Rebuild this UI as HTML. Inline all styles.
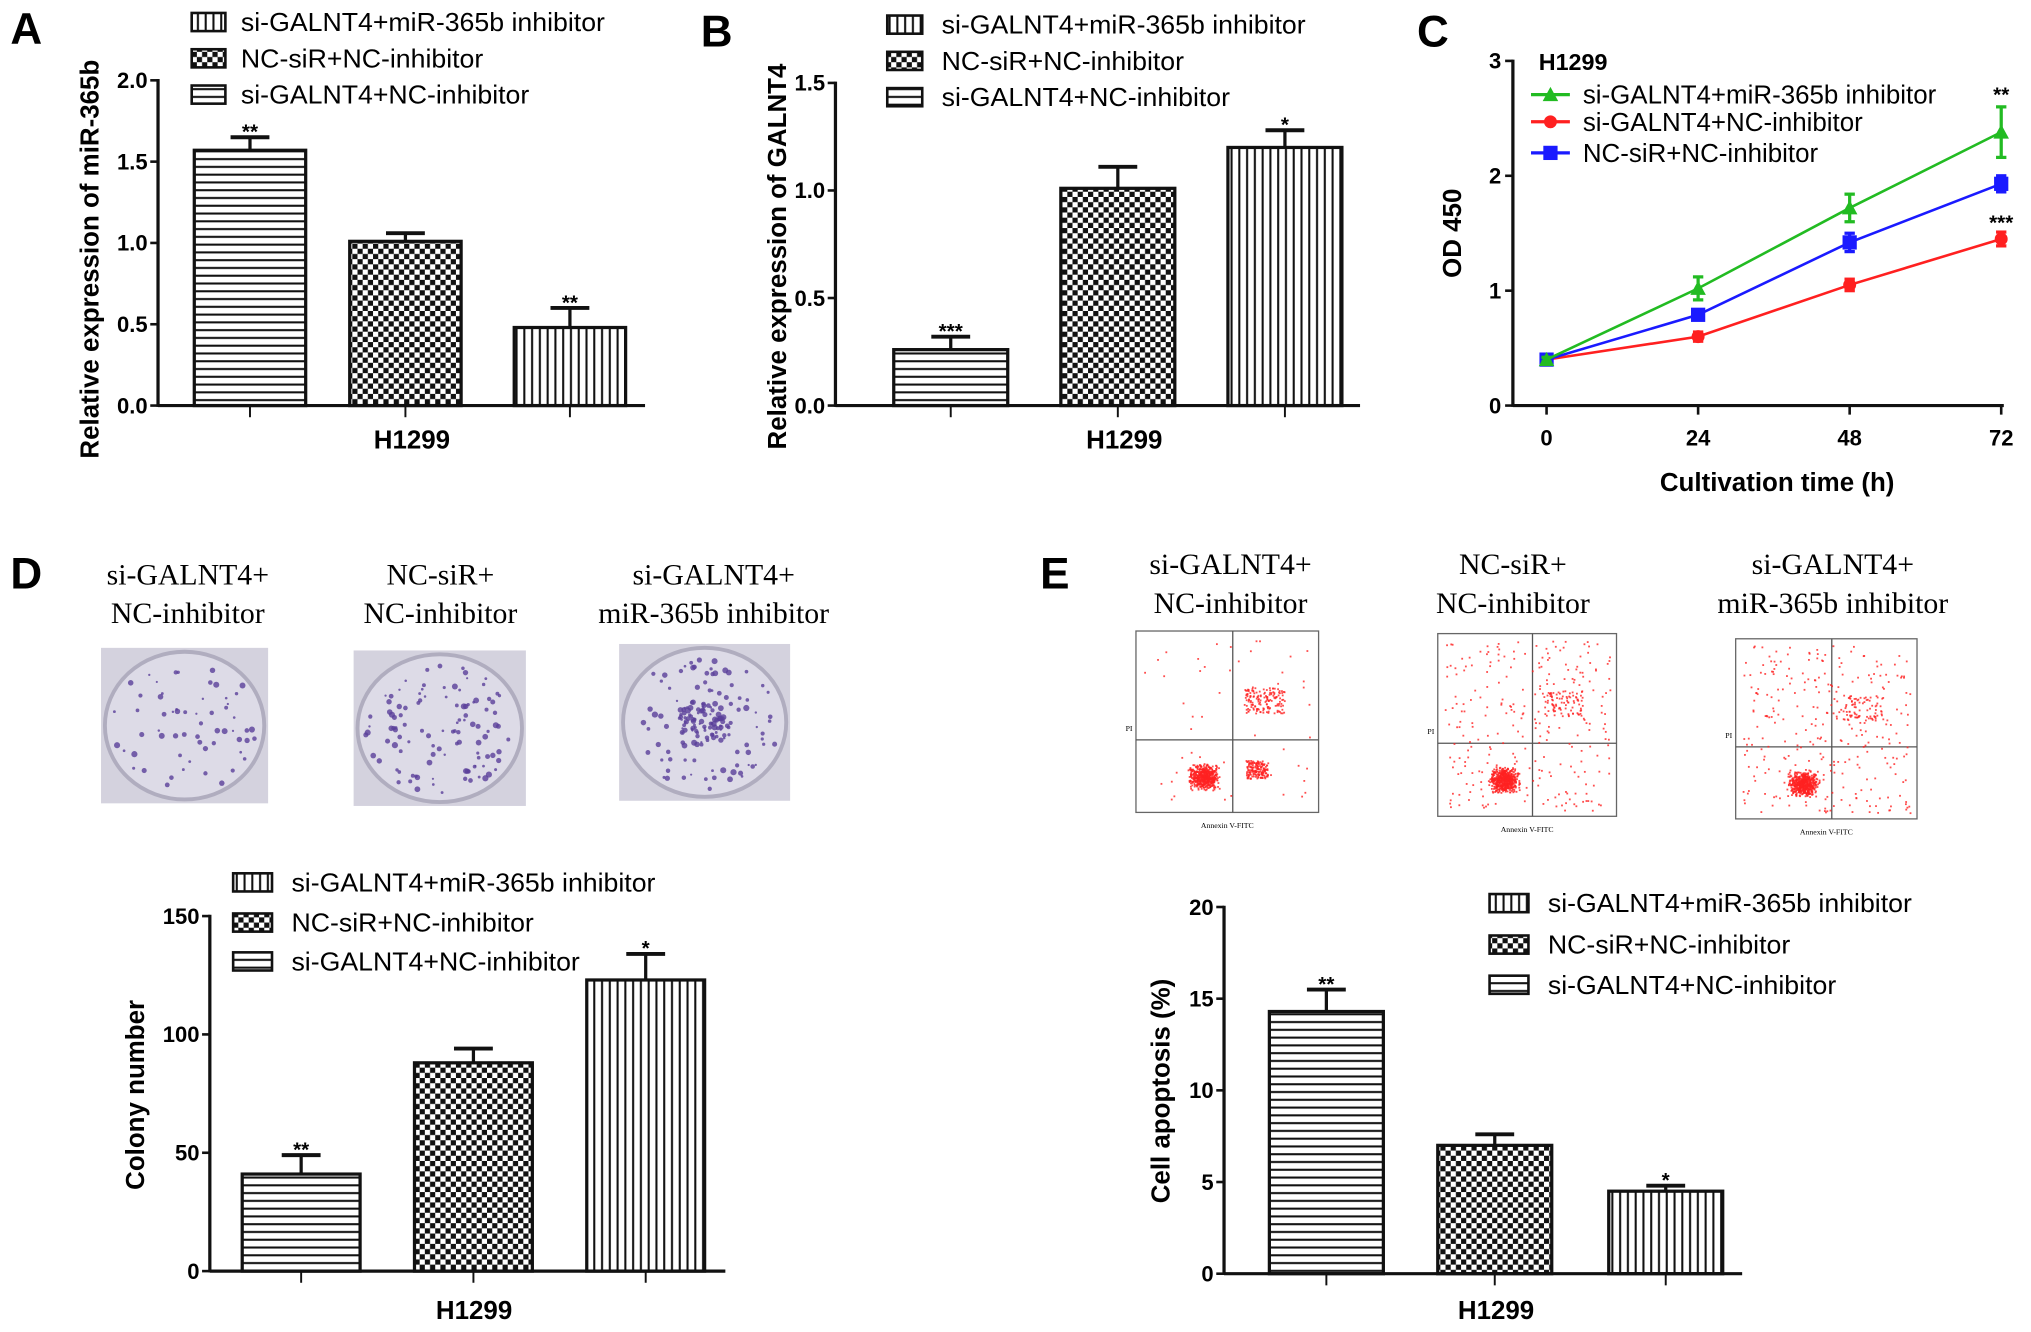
<!DOCTYPE html>
<html><head><meta charset="utf-8"><style>
html,body{margin:0;padding:0;background:#fff}
svg{display:block}
text{font-family:"Liberation Sans",Arial,sans-serif}
.serif{font-family:"Liberation Serif","Times New Roman",serif}
</style></head><body>
<svg id="fig" width="2031" height="1332" viewBox="0 0 1568 1028" preserveAspectRatio="none" xmlns="http://www.w3.org/2000/svg">
<defs>
<pattern id="ph" patternUnits="userSpaceOnUse" width="6" height="6"><rect width="6" height="6" fill="#fff"/><rect y="2" width="6" height="1.6" fill="#111"/></pattern>
<pattern id="pv" patternUnits="userSpaceOnUse" width="6" height="6"><rect width="6" height="6" fill="#fff"/><rect x="2" width="1.6" height="6" fill="#111"/></pattern>
<pattern id="pc" patternUnits="userSpaceOnUse" width="8" height="8"><rect width="8" height="8" fill="#111"/><rect width="4" height="4" fill="#fff"/><rect x="4" y="4" width="4" height="4" fill="#fff"/></pattern>
</defs>
<g id="root"></g>
</svg>
<script>
// ---------- data ----------
const aValues=[1.57,1.01,0.48];
const aErrors=[0.08,0.05,0.12];
const aStars=["**","","**"];
const aTicks=[0,0.5,1.0,1.5,2.0];
const bValues=[0.26,1.01,1.20];
const bErrors=[0.06,0.10,0.08];
const bStars=["***","","*"];
const bTicks=[0,0.5,1.0,1.5];
const dValues=[41,88,123];
const dErrors=[8,6,11];
const dStars=["**","","*"];
const dTicks=[0,50,100,150];
const eValues=[14.3,7.0,4.5];
const eErrors=[1.2,0.6,0.3];
const eStars=["**","","*"];
const eTicks=[0,5,10,15,20];
const barPatterns=["ph","pc","pv"];
const legendLabels=["si-GALNT4+miR-365b inhibitor","NC-siR+NC-inhibitor","si-GALNT4+NC-inhibitor"];
const legendPatterns=["pv","pc","ph"];
const cTimes=[0,24,48,72];
const cTicksX=[0,24,48,72];
const cTicksY=[0,1,2,3];
const cGreen=[0.40,1.02,1.72,2.38];
const cGreenErr=[0.02,0.10,0.12,0.22];
const cRed=[0.40,0.60,1.05,1.45];
const cRedErr=[0.02,0.04,0.05,0.06];
const cBlue=[0.40,0.79,1.42,1.93];
const cBlueErr=[0.02,0.03,0.08,0.07];

const NS="http://www.w3.org/2000/svg";
const root=document.getElementById('root');
function el(tag,attrs,parent,txt){const e=document.createElementNS(NS,tag);for(const k in attrs)e.setAttribute(k,attrs[k]);if(txt!==undefined)e.textContent=txt;(parent||root).appendChild(e);return e;}

function barChart(o){
  const g=el('g',{});
  
  
  const y=v=>o.y0-(v-o.tmin)/(o.tmax-o.tmin)*(o.y0-o.y1);
  o.values.forEach((v,i)=>{
    const x0=o.bx[i];
    const r=el('rect',{x:x0,y:y(v),width:o.bw,height:o.y0-y(v),fill:'url(#'+barPatterns[i]+')',stroke:'#111','stroke-width':2.5},g);
    
    
    const cx=x0+o.bw/2, top=y(v+o.errors[i]);
    el('line',{x1:cx,y1:y(v),x2:cx,y2:top,stroke:'#111','stroke-width':2.5},g);
    el('line',{x1:cx-15,y1:top,x2:cx+15,y2:top,stroke:'#111','stroke-width':3},g);
    if(o.stars[i]){const s=el('text',{x:cx,y:top+1,'font-size':16,'text-anchor':'middle','font-weight':'bold'},g,o.stars[i]);
      
      }
    el('line',{x1:cx,y1:o.y0,x2:cx,y2:o.y0+9,stroke:'#111','stroke-width':1.5},g);
  });
  el('line',{x1:o.ax,y1:o.y1-1,x2:o.ax,y2:o.y0+1,stroke:'#111','stroke-width':2.5},g);
  el('line',{x1:o.ax,y1:o.y0,x2:o.xend,y2:o.y0,stroke:'#111','stroke-width':2.5},g);
  o.ticks.forEach(t=>{
    el('line',{x1:o.ax-6,y1:y(t),x2:o.ax,y2:y(t),stroke:'#111','stroke-width':2},g);
    const tl=el('text',{x:o.ax-8,y:y(t)+6,'font-size':17,'font-weight':'bold','text-anchor':'end'},g,o.fmt(t));
    
    
  });
  const yt=el('text',{transform:'translate('+o.ytx+','+o.yty+') rotate(-90)','font-size':20,'font-weight':'bold','text-anchor':'middle'},g,o.ytitle);
  
  
  const xl=el('text',{x:o.xlx,y:o.xly,'font-size':20,'font-weight':'bold','text-anchor':'middle'},g,'H1299');
  
  
  legendLabels.forEach((lab,i)=>{
    const ly=o.ly[i];
    const lg=el('g',{},g);
    
    
    el('rect',{x:o.lx,y:ly-7,width:o.lw,height:14,fill:'url(#'+legendPatterns[i]+')',stroke:'#111','stroke-width':2},lg);
    el('text',{x:o.ltx,y:ly+7,'font-size':20,transform:'translate('+o.ltx+',0) scale(1.03,1) translate('+(-o.ltx)+',0)'},lg,lab);
  });
}
function letter(t,x,y){const e=el('text',{x:x,y:y,'font-size':34,'font-weight':'bold'},root,t);
  
  }

letter('A',8,34);letter('B',541,36);letter('C',1094,36);letter('D',8,454);letter('E',803,454);

barChart({name:'panel-a-chart',values:aValues,errors:aErrors,stars:aStars,ticks:aTicks,tmin:0,tmax:2,fmt:t=>t.toFixed(1),
  y0:313,y1:62,ax:122,xend:498,bx:[150,270,397],bw:86,ytx:76,yty:200,ytitle:'Relative expression of miR-365b',
  xlx:318,xly:346,lx:148,lw:26,ltx:186,ly:[17,45,73]});
barChart({name:'panel-b-chart',values:bValues,errors:bErrors,stars:bStars,ticks:bTicks,tmin:0,tmax:1.5,fmt:t=>t.toFixed(1),
  y0:313,y1:64,ax:645,xend:1050,bx:[690,819,948],bw:88,ytx:607,yty:198,ytitle:'Relative expression of GALNT4',
  xlx:868,xly:346,lx:685,lw:27,ltx:727,ly:[19,47,75]});
barChart({name:'panel-d-chart',values:dValues,errors:dErrors,stars:dStars,ticks:dTicks,tmin:0,tmax:150,fmt:t=>String(t),
  y0:981,y1:707,ax:162,xend:560,bx:[187,320,453],bw:91,ytx:111,yty:845,ytitle:'Colony number',
  xlx:366,xly:1018,lx:180,lw:30,ltx:225,ly:[681,712,742]});
barChart({name:'panel-e-chart',values:eValues,errors:eErrors,stars:eStars,ticks:eTicks,tmin:0,tmax:20,fmt:t=>String(t),
  y0:983,y1:700,ax:945,xend:1345,bx:[980,1110,1242],bw:88,ytx:903,yty:842,ytitle:'Cell apoptosis (%)',
  xlx:1155,xly:1018,lx:1150,lw:30,ltx:1195,ly:[697,729,760]});

// ---------- panel C line chart ----------
(function(){
  const g=el('g',{});
  
  
  const x=t=>1194+(t-0)/72*(1545-1194);
  const y=v=>313-v/3*(313-47);
  el('line',{x1:1168,y1:46,x2:1168,y2:314,stroke:'#111','stroke-width':2.5},g);
  el('line',{x1:1168,y1:313,x2:1547,y2:313,stroke:'#111','stroke-width':2.5},g);
  cTicksY.forEach(t=>{el('line',{x1:1162,y1:y(t),x2:1168,y2:y(t),stroke:'#111','stroke-width':2},g);
    const tl=el('text',{x:1159,y:y(t)+6,'font-size':17,'font-weight':'bold','text-anchor':'end'},g,String(t));
    
    });
  cTicksX.forEach(t=>{el('line',{x1:x(t),y1:313,x2:x(t),y2:320,stroke:'#111','stroke-width':2},g);
    const tl=el('text',{x:x(t),y:344,'font-size':17,'font-weight':'bold','text-anchor':'middle'},g,String(t));
    
    });
  const xt=el('text',{x:1372,y:379,'font-size':20,'font-weight':'bold','text-anchor':'middle'},g,'Cultivation time (h)');
  
  
  const yt=el('text',{transform:'translate(1128,180) rotate(-90)','font-size':20,'font-weight':'bold','text-anchor':'middle'},g,'OD 450');
  
  
  const tt=el('text',{x:1188,y:54,'font-size':18,'font-weight':'bold'},g,'H1299');
  
  
  const series=[[cRed,cRedErr,'#ff2020','circle'],[cBlue,cBlueErr,'#1a1aff','square'],[cGreen,cGreenErr,'#22bb22','tri']];
  function marker(px,py,col,shape,parent){
    if(shape==='circle')el('circle',{cx:px,cy:py,r:5,fill:col},parent);
    else if(shape==='square')el('rect',{x:px-5.5,y:py-5.5,width:11,height:11,fill:col},parent);
    else el('polygon',{points:(px)+','+(py-6)+' '+(px+6)+','+(py+5)+' '+(px-6)+','+(py+5),fill:col},parent);
  }
  series.forEach(([vals,errs,col,shape])=>{
    const sg=el('g',{},g);
    
    
    el('polyline',{points:vals.map((v,i)=>x(cTimes[i])+','+y(v)).join(' '),fill:'none',stroke:col,'stroke-width':2},sg);
    vals.forEach((v,i)=>{
      const px=x(cTimes[i]);
      el('line',{x1:px,y1:y(v-errs[i]),x2:px,y2:y(v+errs[i]),stroke:col,'stroke-width':2.5},sg);
      el('line',{x1:px-4,y1:y(v-errs[i]),x2:px+4,y2:y(v-errs[i]),stroke:col,'stroke-width':2.5},sg);
      el('line',{x1:px-4,y1:y(v+errs[i]),x2:px+4,y2:y(v+errs[i]),stroke:col,'stroke-width':2.5},sg);
      marker(px,y(v),col,shape,sg);
    });
  });
  el('text',{x:1545,y:y(cGreen[3]+cGreenErr[3])-4,'font-size':16,'font-weight':'bold','text-anchor':'middle'},g,'**');
  el('text',{x:1545,y:y(cRed[3]+cRedErr[3])-2,'font-size':16,'font-weight':'bold','text-anchor':'middle'},g,'***');
  const leg=[['si-GALNT4+miR-365b inhibitor','#22bb22','tri',73],['si-GALNT4+NC-inhibitor','#ff2020','circle',94],['NC-siR+NC-inhibitor','#1a1aff','square',118]];
  leg.forEach(([lab,col,shape,ly])=>{
    const lg=el('g',{},g);
    
    
    el('line',{x1:1182,y1:ly,x2:1212,y2:ly,stroke:col,'stroke-width':2.5},lg);
    marker(1197,ly,col,shape,lg);
    el('text',{x:1222,y:ly+7,'font-size':20},lg,lab);
  });
})();

// ---------- D images (colony dishes) ----------
function hash(n){const s=Math.sin(n*127.1+311.7)*43758.5453;return s-Math.floor(s);}
const dTitles=[['si-GALNT4+','NC-inhibitor',145],['NC-siR+','NC-inhibitor',340],['si-GALNT4+','miR-365b inhibitor',551]];
dTitles.forEach(([a,b,cx])=>{
  const t=el('text',{x:cx,y:451,'font-size':23,'text-anchor':'middle',class:'serif'},root,a);
  
  
  el('text',{x:cx,y:481,'font-size':23,'text-anchor':'middle',class:'serif'},root,b);
});
const dishes=[[78,500,129,120,60,0],[273,502,133,120,110,0],[478,497,132,121,170,1]];
dishes.forEach(([x0,y0,w,h,n,cluster],k)=>{
  const g=el('g',{});
  
  
  el('rect',{x:x0,y:y0,width:w,height:h,fill:'#d4d2de'},g);
  el('ellipse',{cx:x0+w/2,cy:y0+h/2,rx:w/2-3,ry:h/2-3,fill:'#dddbe7',stroke:'#b0adbf','stroke-width':3},g);
  for(let i=0;i<n;i++){
    let r=Math.sqrt(hash(i+k*1000)),a=hash(i*3.3+k*77)*6.283;
    if(cluster&&i%2===0)r*=0.35;
    const px=x0+w/2+Math.cos(a)*r*(w/2-8),py=y0+h/2+Math.sin(a)*r*(h/2-8);
    el('circle',{cx:px,cy:py,r:0.8+hash(i*7.1+k)*1.6,fill:'#5a3f9a',opacity:0.8},g);
  }
});

// ---------- E flow cytometry plots ----------
const eTitles=[['si-GALNT4+','NC-inhibitor',950],['NC-siR+','NC-inhibitor',1168],['si-GALNT4+','miR-365b inhibitor',1415]];
eTitles.forEach(([a,b,cx])=>{
  const t=el('text',{x:cx,y:443,'font-size':23,'text-anchor':'middle',class:'serif'},root,a);
  
  
  el('text',{x:cx,y:473,'font-size':23,'text-anchor':'middle',class:'serif'},root,b);
});
const flows=[[877,487,141,140,0.55],[1110,489,138,141,0.35],[1340,493,140,139,0.3]];
flows.forEach(([x0,y0,w,h,upper],k)=>{
  const g=el('g',{});
  
  
  el('rect',{x:x0,y:y0,width:w,height:h,fill:'#fff',stroke:'#666','stroke-width':1},g);
  const qx=x0+w*0.53,qy=y0+h*0.6;
  el('line',{x1:qx,y1:y0,x2:qx,y2:y0+h,stroke:'#555','stroke-width':1},g);
  el('line',{x1:x0,y1:qy,x2:x0+w,y2:qy,stroke:'#555','stroke-width':1},g);
  for(let i=0;i<900;i++){
    const u=hash(i+k*5000),v=hash(i*1.7+k*91),s=hash(i*2.9+k*13);
    let px,py;
    if(s<0.55){px=x0+w*0.37+(u+v-1)*w*0.09;py=y0+h*0.8+(hash(i*5.1+k)+hash(i*6.3)-1)*h*0.08;}
    else if(s<0.55+upper*0.3){px=x0+w*0.7+(u-0.5)*w*0.22;py=y0+h*0.38+(v-0.5)*h*0.14;}
    else if(s<0.9&&k===0){px=x0+w*0.66+(u-0.5)*w*0.12;py=y0+h*0.76+(v-0.5)*h*0.1;}
    else if(s<0.96){px=x0+5+u*(w-10);py=y0+5+v*(h-10);}
    else continue;
    el('rect',{x:px,y:py,width:1.4,height:1.4,fill:'#f22',opacity:0.8},g);
  }
  el('text',{x:x0+w/2,y:y0+h+12,'font-size':6,'text-anchor':'middle',class:'serif'},g,'Annexin V-FITC');
  el('text',{x:x0-8,y:y0+h*0.55,'font-size':6,class:'serif'},g,'PI');
});
</script>
</body></html>
